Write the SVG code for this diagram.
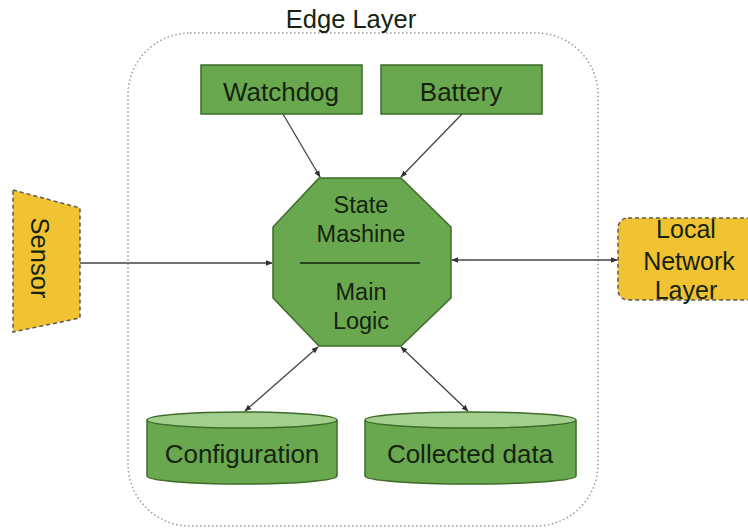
<svg xmlns="http://www.w3.org/2000/svg" width="748" height="528" viewBox="0 0 748 528">
<defs>
<marker id="arr" viewBox="0 0 10 10" refX="9" refY="5" markerWidth="7" markerHeight="7" orient="auto-start-reverse" markerUnits="userSpaceOnUse">
<path d="M0,1 L10,5 L0,9 z" fill="#333"/>
</marker>
<style>
.t{font-family:"Liberation Sans",Arial,sans-serif;fill:#142410;text-anchor:middle}
.g{fill:#6aa84f;stroke:#3d6b2a;stroke-width:1.5}
.gt{fill:#a3cf8c;stroke:#3d6b2a;stroke-width:1.5}
.y{fill:#f1c232;stroke:#595959;stroke-width:1.5;stroke-dasharray:4 3}
.c{stroke:#444;stroke-width:1.3;fill:none}
</style>
</defs>
<rect width="748" height="528" fill="#fff"/>
<g id="edge-layer">
<rect x="128" y="33" width="470" height="493" rx="62" fill="none" stroke="#999" stroke-width="1.5" stroke-dasharray="1.5 2.5"/>
<text class="t" x="351" y="28" font-size="25.5" fill="#333">Edge Layer</text>
</g>
<g id="watchdog">
<rect class="g" x="201" y="65" width="161" height="49"/>
<text class="t" x="281" y="101" font-size="26">Watchdog</text>
</g>
<g id="battery">
<rect class="g" x="381" y="65" width="161" height="49"/>
<text class="t" x="461" y="101" font-size="26">Battery</text>
</g>
<g id="state-machine">
<polygon class="g" points="319,178 401,178 451,227 451,298 401,346 319,346 273,298 273,227"/>
<line x1="300" y1="263" x2="420" y2="263" stroke="#142410" stroke-width="1.5"/>
<text class="t" x="361" y="213" font-size="23.5">State</text>
<text class="t" x="361" y="242" font-size="23.5">Mashine</text>
<text class="t" x="361" y="300" font-size="23.5">Main</text>
<text class="t" x="361" y="329" font-size="23.5">Logic</text>
</g>
<g id="sensor">
<polygon class="y" points="13,190 80,208 80,318 13,332"/>
<text class="t" font-size="25.5" transform="translate(40,258) rotate(90)" dy="9">Sensor</text>
</g>
<g id="local-network">
<rect class="y" x="618" y="218" width="140" height="82" rx="10"/>
<text class="t" x="686" y="238" font-size="25">Local</text>
<text class="t" x="689" y="270" font-size="25">Network</text>
<text class="t" x="686" y="299" font-size="25">Layer</text>
</g>
<g id="configuration">
<path class="g" d="M147,420 L147,476 A95,8 0 0 0 337,476 L337,420"/>
<ellipse class="gt" cx="242" cy="420" rx="95" ry="8"/>
<text class="t" x="242" y="463" font-size="26">Configuration</text>
</g>
<g id="collected-data">
<path class="g" d="M365,420 L365,476 A105.5,8 0 0 0 576,476 L576,420"/>
<ellipse class="gt" cx="470.5" cy="420" rx="105.5" ry="8"/>
<text class="t" x="470" y="463" font-size="26">Collected data</text>
</g>
<g id="connectors">
<line class="c" x1="283" y1="114" x2="320" y2="177" marker-end="url(#arr)"/>
<line class="c" x1="462" y1="114" x2="401" y2="177" marker-end="url(#arr)"/>
<line class="c" x1="80" y1="263" x2="272" y2="263" marker-end="url(#arr)"/>
<line class="c" x1="452" y1="260" x2="617" y2="260" marker-start="url(#arr)" marker-end="url(#arr)"/>
<line class="c" x1="318" y1="347" x2="245" y2="411" marker-start="url(#arr)" marker-end="url(#arr)"/>
<line class="c" x1="401" y1="347" x2="468" y2="411" marker-start="url(#arr)" marker-end="url(#arr)"/>
</g>
</svg>
